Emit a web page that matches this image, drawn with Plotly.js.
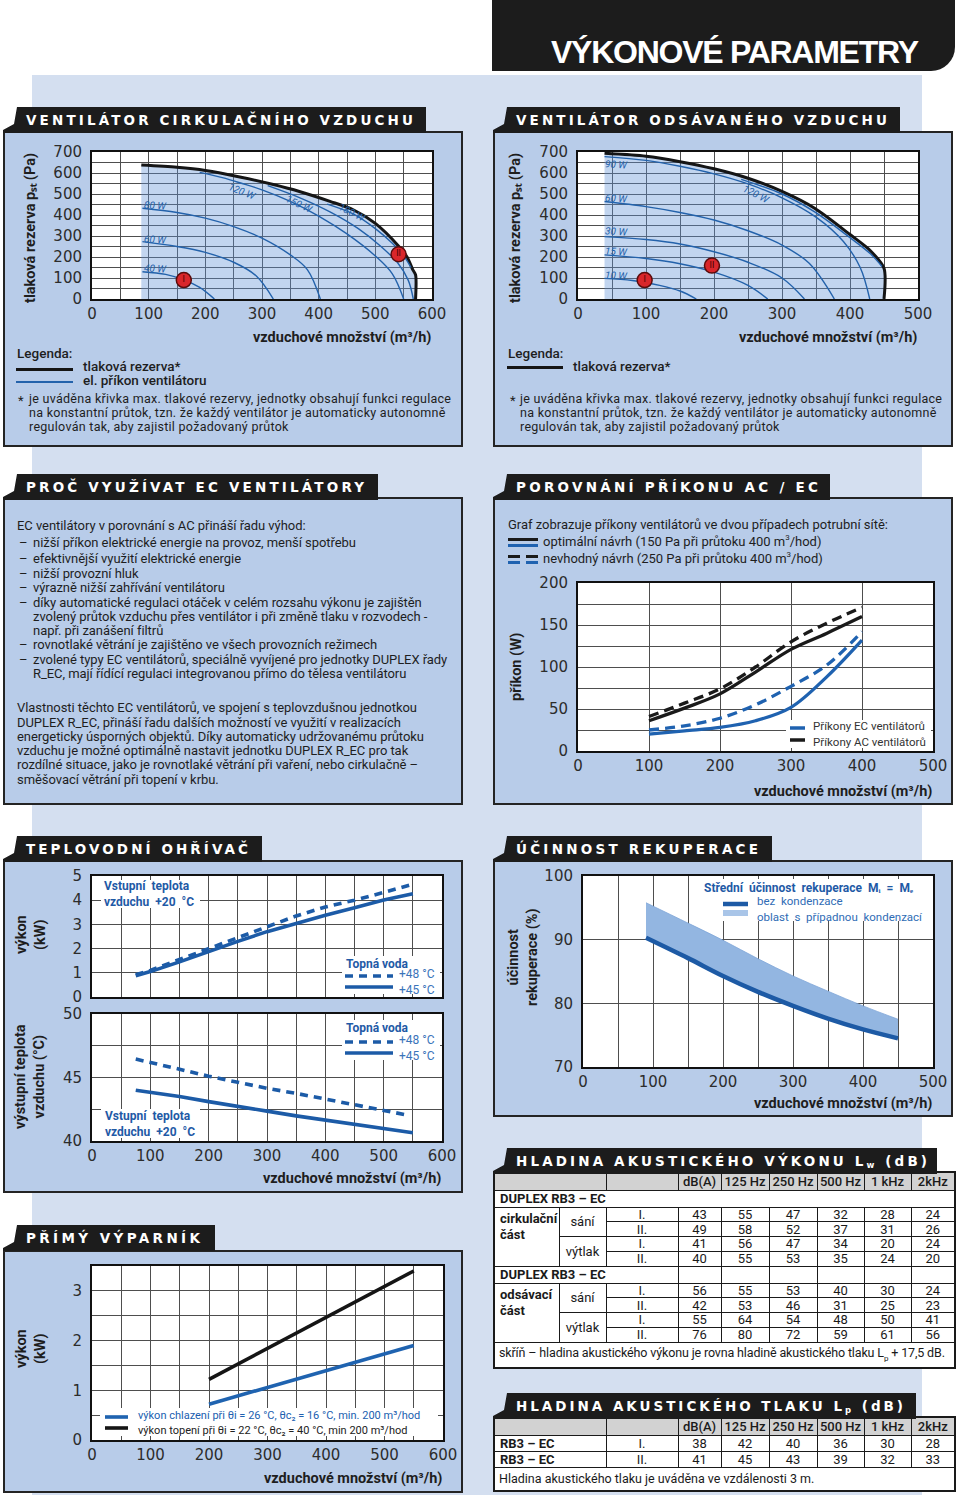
<!DOCTYPE html>
<html lang="cs"><head><meta charset="utf-8">
<script src="https://cdn.plot.ly/plotly-3.0.1.min.js"></script>
<style>
html,body{margin:0;padding:0}
body{width:960px;height:1495px;position:relative;overflow:hidden;background:#fff;font-family:Roboto,"Noto Sans",sans-serif;color:#1e1e1e}
.a{position:absolute}
.panel{position:absolute;background:#b8cce9;border:2px solid #242424;box-sizing:border-box}
.tab{position:absolute;background:#1c1c1c;height:26px;clip-path:polygon(14px 0,100% 0,100% 100%,0 100%,0 calc(100% - 3px),11px calc(100% - 9px))}
.tab span{position:absolute;top:13.5px;transform:translateY(-50%);color:#fff;font-family:"DejaVu Sans",sans-serif;font-weight:bold;font-size:13.5px;white-space:nowrap;line-height:1}
.tab sub{font-size:8.5px;vertical-align:-2px}
.txt{position:absolute;white-space:nowrap;font-size:12.5px;line-height:1;transform:translateY(-50%)}
.chart{position:absolute}
table.tb{position:absolute;border-collapse:collapse;table-layout:fixed;font-family:Roboto,sans-serif;font-size:13px;color:#1a1a1a;background:#fff;border:2px solid #1a1a1a}
table.tb td{border:1px solid #1a1a1a;padding:0;text-align:center;line-height:1;white-space:nowrap;overflow:hidden}
table.tb td.h{background:#d2d2d2;font-weight:500}
table.tb td.b{font-weight:700;text-align:left;padding-left:5px}
table.tb td.g{font-weight:700;text-align:left;vertical-align:top;padding:3px 0 0 5px;line-height:1.25}
table.tb td.f{text-align:left;padding-left:4px;font-size:12.5px}
</style></head>
<body>
<div class="a" style="left:32px;top:75px;width:890px;height:1420px;background:#d4dff0"></div>
<div class="a" style="left:492px;top:0;width:463px;height:71px;background:#1c1c1c;border-bottom-right-radius:24px"></div>
<div class="a" id="hdrtxt" style="left:551px;top:51.5px;transform:translateY(-50%);font-family:'Liberation Sans',sans-serif;font-weight:bold;font-size:32px;color:#fff;white-space:nowrap;line-height:1">VÝKONOVÉ PARAMETRY</div>

<div class="panel" style="left:3px;top:131px;width:460px;height:316px"></div>
<div class="panel" style="left:493px;top:131px;width:460px;height:316px"></div>
<div class="panel" style="left:3px;top:497px;width:460px;height:308px"></div>
<div class="panel" style="left:493px;top:497px;width:460px;height:308px"></div>
<div class="panel" style="left:3px;top:860px;width:460px;height:333px"></div>
<div class="panel" style="left:493px;top:860px;width:460px;height:257px"></div>
<div class="panel" style="left:3px;top:1250px;width:460px;height:243px"></div>

<div id="c1" class="chart"></div>
<div id="c2" class="chart"></div>
<div id="c4" class="chart"></div>
<div id="c5" class="chart"></div>
<div id="c6" class="chart"></div>
<div id="c9" class="chart"></div>

<script>
// ================= DATA =================
// Ventilátor cirkulačního vzduchu (x: m3/h, y: Pa)
const cirkRezervaX = [87,150,200,263,320,366,420,461,500,540,556,566,571,571];
const cirkRezervaY = [638,627,612,580,545,512,465,425,360,255,200,140,115,0];
const cirk40X = [89,130,162,190,216];            const cirk40Y = [130,117,91,55,0];
const cirk60X = [89,150,200,250,290,320];        const cirk60Y = [273,250,222,175,110,0];
const cirk80X = [89,150,200,250,300,350,380,403]; const cirk80Y = [432,412,385,345,290,210,140,0];
const cirk120X = [190,230,265,300,350,400,450,500,530,550]; const cirk120Y = [603,578,550,520,465,395,310,205,120,0];
const cirk150X = [310,367,420,470,510,540,558,567]; const cirk150Y = [540,482,415,335,250,170,90,0];
const cirk180X = [415,461,500,530,550,563];      const cirk180Y = [452,405,335,265,205,150];
const cirkBodX = [162,541]; const cirkBodY = [90,213]; const bodLabels = ['I','II'];

// Ventilátor odsávaného vzduchu
const odsRezervaX = [39,100,150,200,250,300,348,400,430,450,450];
const odsRezervaY = [694,680,654,620,575,512,432,307,230,146,0];
const ods10X = [39,80,120,150,174];              const ods10Y = [98,88,65,38,0];
const ods15X = [39,100,150,200,250,279];         const ods15Y = [210,193,168,128,65,0];
const ods30X = [39,100,150,200,250,300,333];     const ods30Y = [297,283,262,225,175,100,0];
const ods60X = [39,100,150,200,250,300,340,377]; const ods60Y = [464,440,412,376,325,257,170,0];
const ods90X = [39,100,150,200,250,300,350,390,415,429]; const ods90Y = [678,660,632,596,548,482,390,275,150,0];
const ods120X = [240,300,348,400,430,447];       const ods120Y = [570,500,415,292,215,155];
const odsBodX = [98,197]; const odsBodY = [90,159];

// Porovnání příkonu AC / EC (W)
const prutokAcEc = [100,150,200,250,300,350,400];
const acOptimal = [36,51,68,94,121,140,160];
const acNevhodny = [41,57,74,100,130,152,171];
const ecOptimal = [20,24,28,36,52,88,132];
const ecNevhodny = [25,30,39,55,77,102,142];

// Teplovodní ohřívač
const ohrX = [75,100,150,200,250,300,350,400,450,500,550];
const vykon45 = [0.88,1.05,1.45,1.88,2.3,2.7,3.05,3.38,3.69,4.01,4.27];
const vykon48 = [0.92,1.1,1.55,2.0,2.45,2.9,3.35,3.72,4.0,4.32,4.66];
const teplota45X = [75,100,150,200,250,300,350,400,450,500,550];
const teplota45 = [44.0,43.85,43.5,43.1,42.7,42.35,41.98,41.65,41.3,40.98,40.65];
const teplota48X = [75,100,150,200,250,300,350,400,450,500,540];
const teplota48 = [46.45,46.2,45.65,45.1,44.6,44.15,43.75,43.3,42.85,42.45,42.05];

// Účinnost rekuperace (%)
const rekX = [90,150,200,250,300,350,400,450];
const rekBezKondenzace = [90.3,87.1,84.3,81.8,79.6,77.6,75.9,74.5];
const rekKondenzaceMax = [95.8,92.6,89.9,87.0,84.3,81.9,79.6,77.5];

// Přímý výparník (kW)
const vypX = [200,300,400,500,550];
const vypTopeni = [1.22,1.84,2.47,3.09,3.40];
const vypChlazeni = [0.72,1.06,1.39,1.73,1.90];

// Hladina akustického výkonu Lw (dB)
const pasma = ['dB(A)','125 Hz','250 Hz','500 Hz','1 kHz','2kHz'];
const lwCirkSaniI = [43,55,47,32,28,24];
const lwCirkSaniII = [49,58,52,37,31,26];
const lwCirkVytlakI = [41,56,47,34,20,24];
const lwCirkVytlakII = [40,55,53,35,24,20];
const lwOdsSaniI = [56,55,53,40,30,24];
const lwOdsSaniII = [42,53,46,31,25,23];
const lwOdsVytlakI = [55,64,54,48,50,41];
const lwOdsVytlakII = [76,80,72,59,61,56];
// Hladina akustického tlaku Lp (dB)
const lpI = [38,42,40,36,30,28];
const lpII = [41,45,43,39,32,33];

// ================= HELPERS =================
const TICKF = {family:'DejaVu Sans, sans-serif', size:15, color:'#2c2c2c'};
const GRID = '#4e4e4e';
const BLUE = '#2362ab';
function axis(o){
  return Object.assign({showgrid:true,gridcolor:GRID,gridwidth:1,showline:true,linecolor:'#111',linewidth:2,mirror:true,
    zeroline:false,ticks:'',tickfont:TICKF,ticklabelstandoff:5,fixedrange:true,tick0:0},o);
}
function xaxis(o){return axis(Object.assign({ticklabelstandoff:0},o));}
function mg(d,t0){return {dtick:d,tick0:t0||0,showgrid:true,gridcolor:GRID,gridwidth:1};}
function P(s,px,py){return [(px-s.pl)/(s.pr-s.pl),(s.pb-py)/(s.pb-s.pt)];}
function A(s,px,py,text,o){const p=P(s,px,py);return Object.assign({xref:'paper',yref:'paper',x:p[0],y:p[1],text:text,showarrow:false,xanchor:'left',yanchor:'middle',borderpad:0,font:{family:'Roboto',size:12,color:'#222'}},o||{});}
function L(s,x0,y0,x1,y1,color,width,dash){const a=P(s,x0,y0),b=P(s,x1,y1);return {type:'line',xref:'paper',yref:'paper',x0:a[0],y0:a[1],x1:b[0],y1:b[1],layer:'above',line:{color:color,width:width,dash:dash||'solid'}};}
function R(s,x0,y0,x1,y1,fill){const a=P(s,x0,y0),b=P(s,x1,y1);return {type:'rect',xref:'paper',yref:'paper',x0:a[0],y0:a[1],x1:b[0],y1:b[1],fillcolor:fill,line:{width:0},layer:'above'};}
function XT(s,cy){return A(s,s.pr,cy,'<b>vzduchové množství (m³/h)</b>',{xanchor:'right',font:{family:'Roboto',size:14.5,color:'#1e1e1e'}});}
function YT(s,cx,cy,text){return A(s,cx,cy,'<b>'+text+'</b>',{xanchor:'center',textangle:-90,font:{family:'Roboto',size:14.5,color:'#1e1e1e'}});}
function CL(x,y,text,ang){return {xref:'x',yref:'y',x:x,y:y,text:text,showarrow:false,textangle:ang,xanchor:'center',yanchor:'middle',font:{family:'Roboto',size:10,color:BLUE,style:'italic'}};}
function line(x,y,color,width,dash,shape){return {x:x,y:y,mode:'lines',hoverinfo:'skip',line:{color:color,width:width,dash:dash||'solid',shape:shape||'spline',smoothing:1.0}};}
function makeChart(id,s,traces,lay){
  const div=document.getElementById(id);
  Object.assign(div.style,{left:s.left+'px',top:s.top+'px',width:s.width+'px',height:s.height+'px'});
  const layout=Object.assign({width:s.width,height:s.height,
    margin:{l:s.pl-s.left,r:s.left+s.width-s.pr,t:s.pt-s.top,b:s.top+s.height-s.pb,pad:0},
    paper_bgcolor:'rgba(0,0,0,0)',plot_bgcolor:'#fff',showlegend:false,font:{family:'Roboto',color:'#222'}},lay);
  Plotly.newPlot(div,traces,layout,{staticPlot:true,displayModeBar:false});
}
function markers(x,y){return {x:x,y:y,mode:'markers+text',text:bodLabels,textposition:'middle center',hoverinfo:'skip',
  marker:{size:15,color:'#d9262b',line:{color:'#5a0c0c',width:1.5}},textfont:{family:'DejaVu Sans',size:8,color:'#3a0000'}};}
// two stacked legend texts: upper ends at mid, lower starts at mid (no overlap)
function pair(s,x,mid,t1,t2,f1,f2){return [A(s,x,mid,t1,{yanchor:'bottom',font:f1}),A(s,x,mid,t2,{yanchor:'top',font:f2||f1})];}
const YPST='tlaková rezerva pₛₜ (Pa)';

// ================= CHART 1 =================
const S1={left:3,top:131,width:460,height:230,pl:92,pr:432,pt:152,pb:299};
makeChart('c1',S1,[
  {x:cirkRezervaX,y:cirkRezervaY,mode:'lines',fill:'tozeroy',fillcolor:'rgba(95,145,212,0.38)',hoverinfo:'skip',line:{color:'#151515',width:3,shape:'spline',smoothing:0.8}},
  line(cirk40X,cirk40Y,BLUE,1.4),line(cirk60X,cirk60Y,BLUE,1.4),line(cirk80X,cirk80Y,BLUE,1.4),
  line(cirk120X,cirk120Y,BLUE,1.4),line(cirk150X,cirk150Y,BLUE,1.4),line(cirk180X,cirk180Y,BLUE,1.4),
  markers(cirkBodX,cirkBodY)
],{
  xaxis:xaxis({range:[0,600],dtick:100,minor:mg(50)}),
  yaxis:axis({range:[0,700],dtick:100,minor:mg(50)}),
  annotations:[
    CL(112,145,'40 W',4),CL(112,283,'60 W',4),CL(112,445,'80 W',4),
    CL(265,512,'120 W',22),CL(367,450,'150 W',25),CL(459,412,'180 W',27),
    XT(S1,337),YT(S1,30,228,YPST)
  ]
});

// ================= CHART 2 =================
const S2={left:493,top:131,width:460,height:230,pl:578,pr:918,pt:152,pb:299};
makeChart('c2',S2,[
  {x:odsRezervaX,y:odsRezervaY,mode:'lines',fill:'tozeroy',fillcolor:'rgba(95,145,212,0.38)',hoverinfo:'skip',line:{color:'#151515',width:3,shape:'spline',smoothing:0.8}},
  line(ods10X,ods10Y,BLUE,1.4),line(ods15X,ods15Y,BLUE,1.4),line(ods30X,ods30Y,BLUE,1.4),
  line(ods60X,ods60Y,BLUE,1.4),line(ods90X,ods90Y,BLUE,1.4),line(ods120X,ods120Y,BLUE,1.4),
  markers(odsBodX,odsBodY)
],{
  xaxis:xaxis({range:[0,500],dtick:100,minor:mg(50)}),
  yaxis:axis({range:[0,700],dtick:100,minor:mg(50)}),
  annotations:[
    CL(57,640,'90 W',4),CL(57,478,'60 W',4),CL(57,320,'30 W',4),CL(57,226,'15 W',4),CL(57,112,'10 W',4),
    CL(263,497,'120 W',27),
    XT(S2,337),YT(S2,515,228,YPST)
  ]
});

// ================= CHART 4 =================
const S4={left:493,top:560,width:460,height:245,pl:578,pr:933,pt:583,pb:751};
const ECB='#1f62b0', ACB='#1a1a1a';
const lgF={family:'Roboto',size:11.5,color:'#333'};
makeChart('c4',S4,[
  line(prutokAcEc,acNevhodny,ACB,3.3,'10px,6px'),
  line(prutokAcEc,acOptimal,ACB,3.3),
  line(prutokAcEc,ecNevhodny,ECB,3.3,'10px,6px'),
  line(prutokAcEc,ecOptimal,ECB,3.3)
],{
  xaxis:xaxis({range:[0,500],dtick:100}),
  yaxis:axis({range:[0,200],dtick:50,minor:mg(25)}),
  shapes:[R(S4,786,720,931,748,'#fff'),L(S4,790,728,805,728,ECB,3.5),L(S4,790,740,805,740,ACB,3.5)],
  annotations:[].concat(
    pair(S4,812,734,'Příkony EC ventilátorů','Příkony AC ventilátorů',lgF),
    [XT(S4,791),YT(S4,516,667,'příkon (W)')])
});

// ================= CHART 5 =================
const S5={left:3,top:862,width:460,height:331,pl:92,pr:442,pt:876,pb:1141};
const HB='#1c5ba7';
const upDom=[(1141-997)/265,1], loDom=[0,(1141-1014)/265];
const bl={family:'Roboto',size:12,color:'#1f5aa6'};
const lb={family:'Roboto',size:12,color:'#3a74ba'};
makeChart('c5',S5,[
  Object.assign(line(ohrX,vykon48,HB,3.6,'8px,6px','linear'),{xaxis:'x2',yaxis:'y'}),
  Object.assign(line(ohrX,vykon45,HB,3.6,'solid','linear'),{xaxis:'x2',yaxis:'y'}),
  Object.assign(line(teplota48X,teplota48,HB,3.6,'8px,6px','linear'),{xaxis:'x',yaxis:'y2'}),
  Object.assign(line(teplota45X,teplota45,HB,3.6,'solid','linear'),{xaxis:'x',yaxis:'y2'})
],{
  xaxis:xaxis({range:[0,600],dtick:100,minor:mg(50),anchor:'y2'}),
  xaxis2:xaxis({range:[0,600],dtick:100,minor:mg(50),anchor:'y',matches:'x',showticklabels:false}),
  yaxis:axis({range:[0,5],dtick:1,domain:upDom,anchor:'x2'}),
  yaxis2:axis({range:[40,50],dtick:5,tick0:40,minor:mg(2.5,40),domain:loDom,anchor:'x'}),
  shapes:[R(S5,101,880,200,908,'#fff'),R(S5,342,956,440,994,'#fff'),R(S5,342,1020,440,1060,'#fff'),R(S5,101,1109,200,1138,'#fff'),
          L(S5,345,976,393,976,HB,3.5,'8px,6px'),L(S5,345,987,393,987,HB,3.5),
          L(S5,345,1042,393,1042,HB,3.5,'8px,6px'),L(S5,345,1053,393,1053,HB,3.5)],
  annotations:[].concat(
    pair(S5,103,894,'<b>Vstupní\u00a0 teplota</b>','<b>vzduchu\u00a0 +20\u00a0 °C</b>',bl),
    [A(S5,345,964,'<b>Topná voda</b>',{font:bl})],
    pair(S5,398,981.5,'+48 °C','+45 °C',lb),
    [A(S5,345,1028,'<b>Topná voda</b>',{font:bl})],
    pair(S5,398,1047.5,'+48 °C','+45 °C',lb),
    pair(S5,104,1123.5,'<b>Vstupní\u00a0 teplota</b>','<b>vzduchu\u00a0 +20\u00a0 °C</b>',bl),
    [XT(S5,1178),YT(S5,31,935,'výkon<br>(kW)'),YT(S5,30,1077,'výstupní teplota<br>vzduchu (°C)')])
});

// ================= CHART 6 =================
const S6={left:493,top:862,width:460,height:255,pl:583,pr:933,pt:876,pb:1067};
const rekF={family:'Roboto',size:11.5,color:'#2f6cb5'};
makeChart('c6',S6,[
  {x:rekX,y:rekBezKondenzace,mode:'lines',hoverinfo:'skip',line:{width:0,shape:'spline'}},
  {x:rekX,y:rekKondenzaceMax,mode:'lines',fill:'tonexty',fillcolor:'#93b6e1',hoverinfo:'skip',line:{width:0.8,color:'#7fa6d8',shape:'spline'}},
  line(rekX,rekBezKondenzace,'#1d5aa5',4.5)
],{
  xaxis:xaxis({range:[0,500],dtick:100,minor:mg(50)}),
  yaxis:axis({range:[70,100],dtick:10,tick0:70}),
  shapes:[R(S6,698,879,930,921,'#fff'),L(S6,723,904,748,904,'#1d5aa5',4.5),R(S6,723,910,748,916,'#a9c5e8')],
  annotations:[].concat(
    [A(S6,703,896,'<b>Střední\u00a0 účinnost\u00a0 rekuperace\u00a0 Mᵢ\u00a0 =\u00a0 Mₑ</b>',{yanchor:'bottom',font:{family:'Roboto',size:12,color:'#1f5aa6'}})],
    pair(S6,756,908.5,'bez\u00a0 kondenzace','oblast\u00a0 s\u00a0 případnou\u00a0 kondenzací',rekF),
    [XT(S6,1103),YT(S6,523,957,'účinnost<br>rekuperace (%)')])
});

// ================= CHART 9 =================
const S9={left:3,top:1252,width:460,height:241,pl:92,pr:443,pt:1266,pb:1440};
makeChart('c9',S9,[
  line(vypX,vypTopeni,'#151515',3.6,'solid','linear'),
  line(vypX,vypChlazeni,'#1f63b0',3.6,'solid','linear')
],{
  xaxis:xaxis({range:[0,600],dtick:100,minor:mg(50)}),
  yaxis:axis({range:[0,3.5],dtick:1,minor:mg(0.5)}),
  shapes:[R(S9,100,1408,438,1436,'#fff'),L(S9,105,1417,128,1417,'#1f63b0',3.6),L(S9,105,1428,128,1428,'#151515',3.6)],
  annotations:[].concat(
    pair(S9,137,1422.5,'výkon chlazení při θi = 26 °C, θc₂ = 16 °C, min. 200 m³/hod',
         'výkon topení při θi = 22 °C, θc₂ = 40 °C, min 200 m³/hod',
         {family:'Roboto',size:11,color:'#2060b0'},{family:'Roboto',size:11,color:'#222'}),
    [XT(S9,1479),YT(S9,31,1348,'výkon<br>(kW)')])
});

// ================= HTML TEXT =================
function fit(el,target){el.style.letterSpacing='0px';const w=el.getBoundingClientRect().width;const n=[...el.textContent].length;const ls=(target-w)/Math.max(1,n-1);el.style.letterSpacing=ls+'px';return ls;}
function T(x,cy,html,style){const d=document.createElement('div');d.className='txt';d.style.left=x+'px';d.style.top=cy+'px';d.innerHTML=html;if(style)d.style.cssText+=style;document.body.appendChild(d);return d;}
function box(x,y,w,h,c){const d=document.createElement('div');d.className='a';d.style.cssText+='left:'+x+'px;top:'+y+'px;width:'+w+'px;height:'+h+'px;background:'+c;document.body.appendChild(d);return d;}
function tab(left,top,right,textX,html,target){const d=document.createElement('div');d.className='tab';d.style.left=left+'px';d.style.top=top+'px';d.style.width=(right-left)+'px';d.style.zIndex=5;const s=document.createElement('span');s.style.left=(textX-left)+'px';s.innerHTML=html;d.appendChild(s);document.body.appendChild(d);fit(s,target);}

// panel 1 legend
const legS='font-size:13.5px;font-weight:500;';
T(17,354,'Legenda:',legS);
box(16,368,57,3,'#151515');
T(83,367,'tlaková rezerva*',legS);
box(16,381,57,1.5,BLUE);
T(83,381,'el. příkon ventilátoru',legS);
const fn=['je uváděna křivka max. tlakové rezervy, jednotky obsahují funkci regulace',
          'na konstantní průtok, tzn. že každý ventilátor je automaticky autonomně',
          'regulován tak, aby zajistil požadovaný průtok'];
function footnote(x0,x1){
  T(x0,400,'*','font-size:13px;');
  const f0=T(x1,399,fn[0]);const ls=fit(f0,422);
  T(x1,413,fn[1],'letter-spacing:'+ls+'px');T(x1,427,fn[2],'letter-spacing:'+ls+'px');
}
footnote(18,29);
// panel 2 legend
T(508,354,'Legenda:',legS);
box(507,366,56,3,'#151515');
T(573,367,'tlaková rezerva*',legS);
footnote(510,520);

// panel 3 text
const ecUvod='EC ventilátory v porovnání s AC přináší řadu výhod:';
const ecVyhody=[[1,'nižší příkon elektrické energie na provoz, menší spotřebu',542],
 [1,'efektivnější využití elektrické energie',558],
 [1,'nižší provozní hluk',573],
 [1,'výrazně nižší zahřívání ventilátoru',587],
 [1,'díky automatické regulaci otáček v celém rozsahu výkonu je zajištěn',602],
 [0,'zvolený průtok vzduchu přes ventilátor i při změně tlaku v rozvodech -',616],
 [0,'např. při zanášení filtrů',630],
 [1,'rovnotlaké větrání je zajištěno ve všech provozních režimech',644],
 [1,'zvolené typy EC ventilátorů, speciálně vyvíjené pro jednotky DUPLEX řady',659],
 [0,'R_EC, mají řídící regulaci integrovanou přímo do tělesa ventilátoru',673]];
const ecOdst=[['Vlastnosti těchto EC ventilátorů, ve spojení s teplovzdušnou jednotkou',707],
 ['DUPLEX R_EC, přináší řadu dalších možností ve využití v realizacích',722],
 ['energeticky úsporných objektů. Díky automaticky udržovanému průtoku',736],
 ['vzduchu je možné optimálně nastavit jednotku DUPLEX R_EC pro tak',750],
 ['rozdílné situace, jako je rovnotlaké větrání při vaření, nebo cirkulačně –',764],
 ['směšovací větrání při topení v krbu.',779]];
const bs='font-size:13px;';
const refEl=T(17,707,ecOdst[0][0],bs);const lsB=fit(refEl,400);
const bsl=bs+'letter-spacing:'+lsB+'px;';
T(17,525,ecUvod,bsl);
ecVyhody.forEach(r=>{if(r[0])T(19,r[2],'–',bs);T(33,r[2],r[1],bsl);});
ecOdst.slice(1).forEach(r=>T(17,r[1],r[0],bsl));

// panel 4 text
const g0=T(508,524,'Graf zobrazuje příkony ventilátorů ve dvou případech potrubní sítě:',bs);const lsG=fit(g0,380);
const gsl=bs+'letter-spacing:'+lsG+'px;';
box(508,537.5,30,3,'#1a1a1a');box(508,543.5,30,3,'#1f62b0');
box(508,554.5,12,3,'#1a1a1a');box(526,554.5,12,3,'#1a1a1a');
box(508,560.5,12,3,'#1f62b0');box(526,560.5,12,3,'#1f62b0');
T(543,541,'optimální návrh (150 Pa při průtoku 400 m<sup style="font-size:8px">3</sup>/hod)',gsl);
T(543,558,'nevhodný návrh (250 Pa při průtoku 400 m<sup style="font-size:8px">3</sup>/hod)',gsl);

// ================= TABLES =================
function cells(arr){return arr.map(v=>'<td>'+v+'</td>').join('');}
const rh=14.75;
let h1='<colgroup>'+[65,47,72,43,48,48,47,47,44].map(w=>'<col style="width:'+w+'px">').join('')+'</colgroup>';
h1+='<tr style="height:18px"><td class="h" colspan="2"></td><td class="h"></td>'+pasma.map(p=>'<td class="h">'+p+'</td>').join('')+'</tr>';
function blok(nazev,dil,sI,sII,vI,vII,first){
  let s='<tr style="height:17px">'+(first?'<td class="b" colspan="9">'+nazev+'</td>':'<td class="b" colspan="3">'+nazev+'</td>'+'<td></td>'.repeat(6))+'</tr>';
  s+='<tr style="height:'+rh+'px"><td class="g" rowspan="4">'+dil+'</td><td rowspan="2">sání</td><td>I.</td>'+cells(sI)+'</tr>';
  s+='<tr style="height:'+rh+'px"><td>II.</td>'+cells(sII)+'</tr>';
  s+='<tr style="height:'+rh+'px"><td rowspan="2">výtlak</td><td>I.</td>'+cells(vI)+'</tr>';
  s+='<tr style="height:'+rh+'px"><td>II.</td>'+cells(vII)+'</tr>';
  return s;
}
h1+=blok('DUPLEX RB3 – EC','cirkulační<br>část',lwCirkSaniI,lwCirkSaniII,lwCirkVytlakI,lwCirkVytlakII,true);
h1+=blok('DUPLEX RB3 – EC','odsávací<br>část',lwOdsSaniI,lwOdsSaniII,lwOdsVytlakI,lwOdsVytlakII,false);
h1+='<tr style="height:26px"><td class="f" colspan="9"><span id="ft1">skříň – hladina akustického výkonu je rovna hladině akustického tlaku L<sub style="font-size:8px">p</sub> + 17,5 dB.</span></td></tr>';
const t1=document.createElement('table');t1.className='tb';t1.style.left='493px';t1.style.top='1171px';t1.style.width='461px';t1.innerHTML=h1;document.body.appendChild(t1);
fit(document.getElementById('ft1'),446);

let h2='<colgroup>'+[112,72,43,48,48,47,47,44].map(w=>'<col style="width:'+w+'px">').join('')+'</colgroup>';
h2+='<tr style="height:18px"><td class="h"></td><td class="h"></td>'+pasma.map(p=>'<td class="h">'+p+'</td>').join('')+'</tr>';
h2+='<tr style="height:16px"><td class="b">RB3 – EC</td><td>I.</td>'+cells(lpI)+'</tr>';
h2+='<tr style="height:16px"><td class="b">RB3 – EC</td><td>II.</td>'+cells(lpII)+'</tr>';
h2+='<tr style="height:24px"><td class="f" colspan="8">Hladina akustického tlaku je uváděna ve vzdálenosti 3 m.</td></tr>';
const t2=document.createElement('table');t2.className='tb';t2.style.left='493px';t2.style.top='1416px';t2.style.width='461px';t2.innerHTML=h2;document.body.appendChild(t2);

tab(3,107,426,26,'VENTILÁTOR CIRKULAČNÍHO VZDUCHU',387);
tab(493,107,900,516,'VENTILÁTOR ODSÁVANÉHO VZDUCHU',371);
tab(3,474,378,26,'PROČ VYUŽÍVAT EC VENTILÁTORY',338);
tab(493,474,830,516,'POROVNÁNÍ PŘÍKONU AC / EC',302);
tab(3,836,262,26,'TEPLOVODNÍ OHŘÍVAČ',222);
tab(493,836,772,516,'ÚČINNOST REKUPERACE',242);
tab(493,1148,937,516,'HLADINA AKUSTICKÉHO VÝKONU L<sub>w</sub> (dB)',411);
tab(493,1393,916,516,'HLADINA AKUSTICKÉHO TLAKU L<sub>p</sub> (dB)',387);
tab(3,1225,215,26,'PŘÍMÝ VÝPARNÍK',174);
fit(document.getElementById('hdrtxt'),368);
</script>
</body></html>
